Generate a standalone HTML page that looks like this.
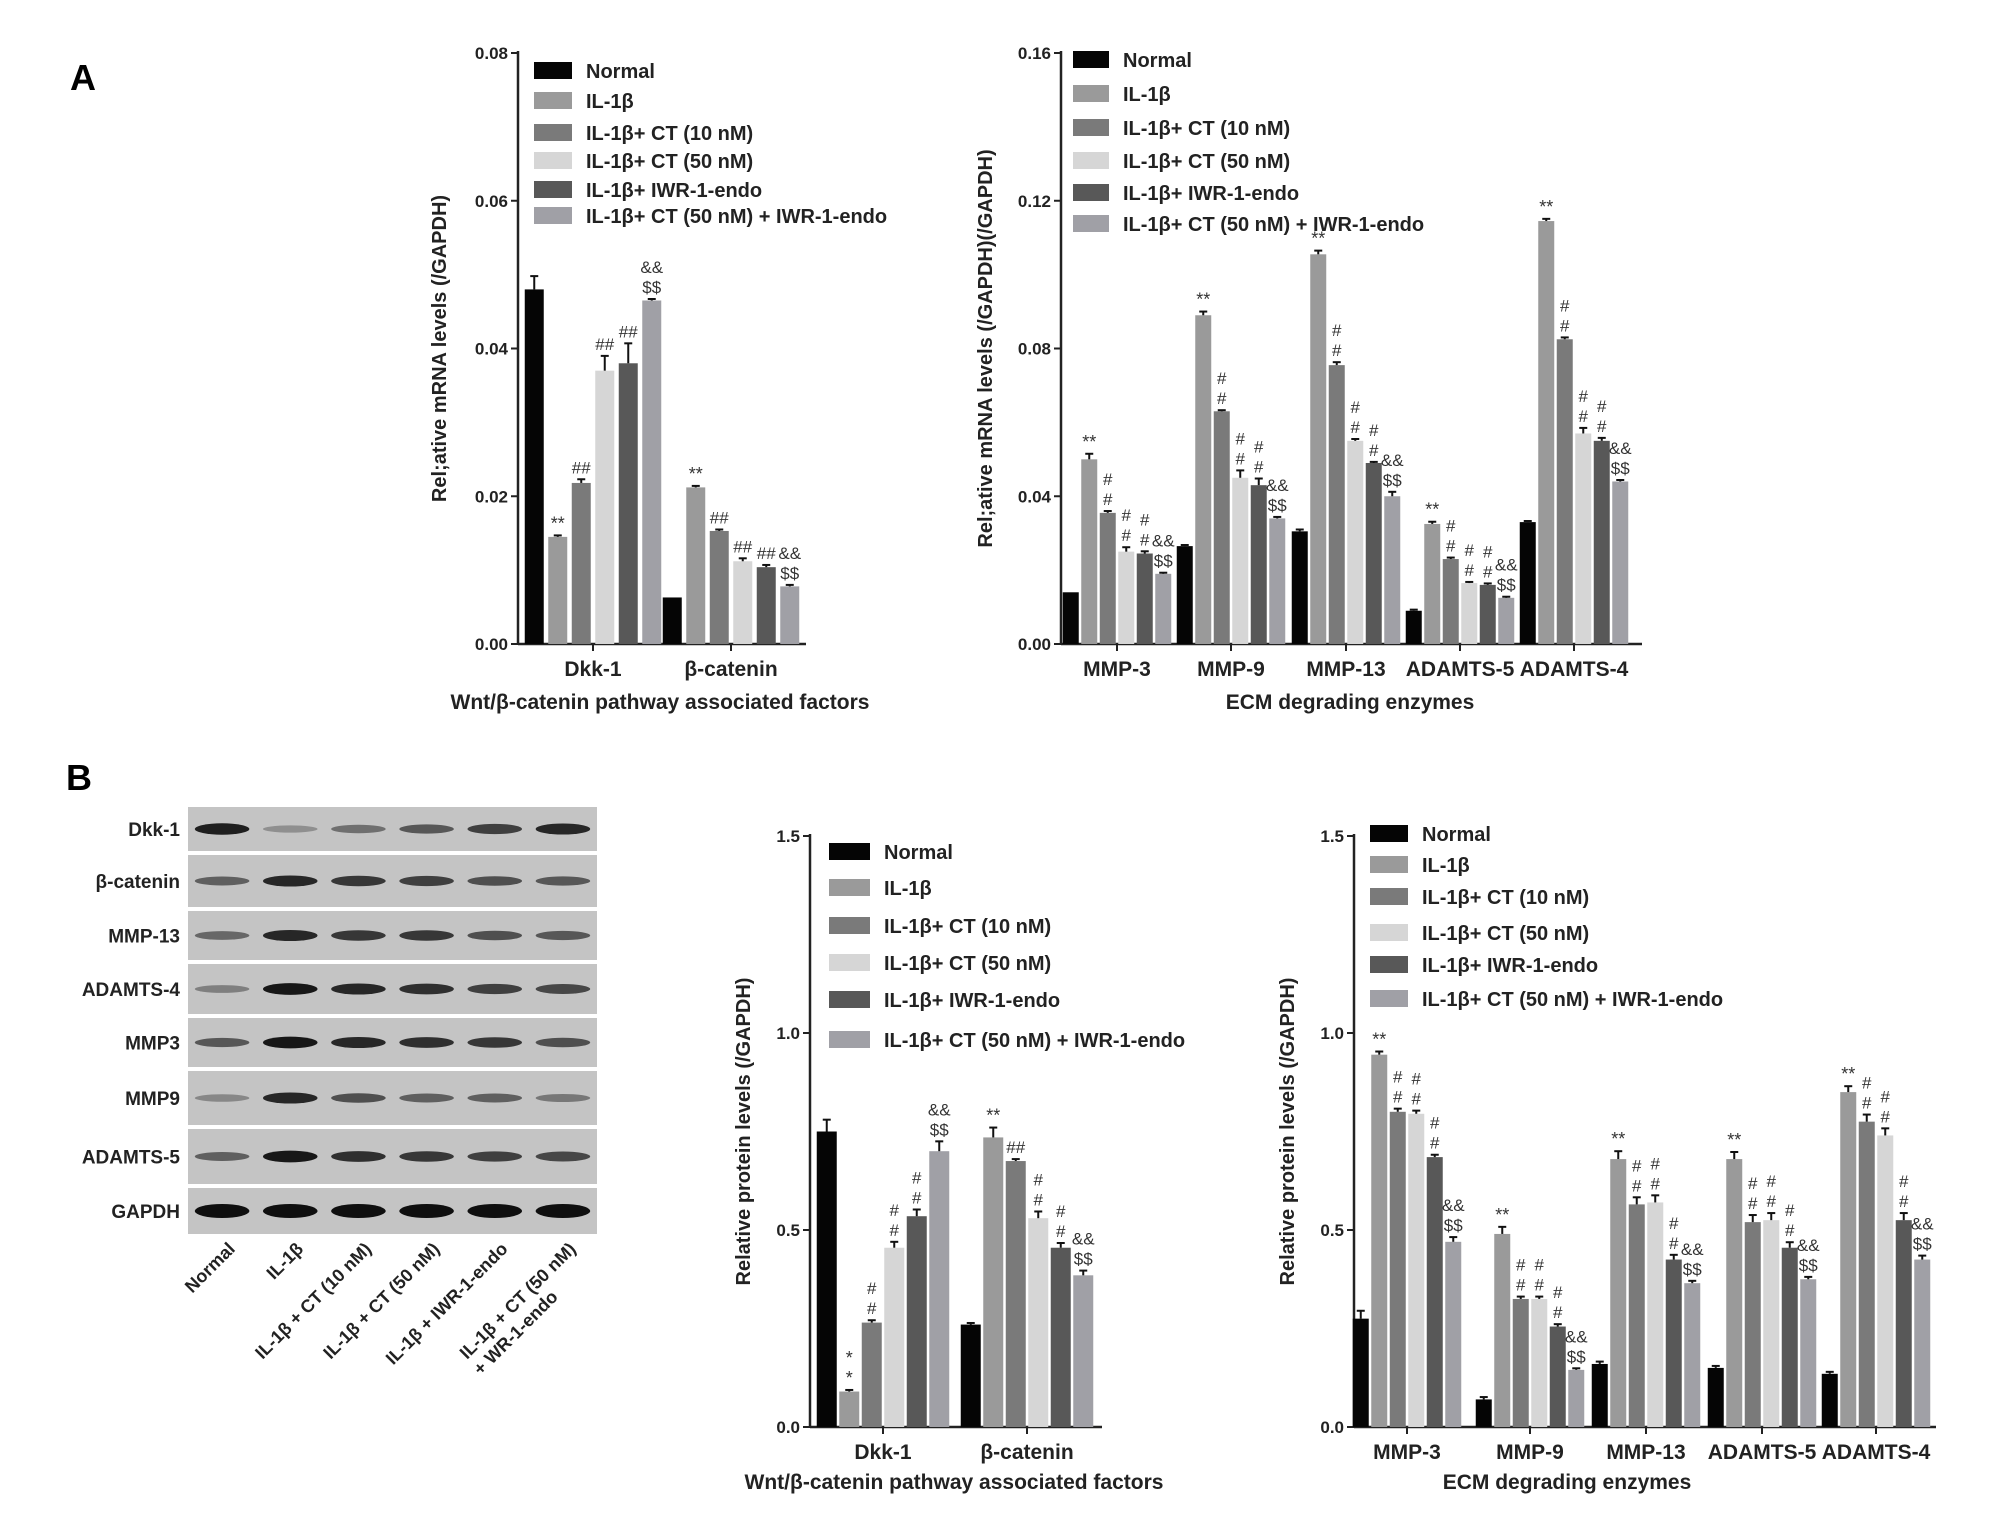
<!DOCTYPE html>
<html><head><meta charset="utf-8"><style>
body{margin:0;background:#fff;}
svg{display:block;font-family:"Liberation Sans",sans-serif;font-weight:bold;}
</style></head><body>
<svg id="fig" width="2008" height="1516" viewBox="0 0 2008 1516">
<text x="70" y="90" font-size="36">A</text>
<text x="66" y="790" font-size="36">B</text>
<g id="blot"></g>
<g id="c1"></g>
<g id="c2"></g>
<g id="c3"></g>
<g id="c4"></g>
</svg>
<script>
const seriesNames=["Normal","IL-1β","IL-1β+ CT (10 nM)","IL-1β+ CT (50 nM)","IL-1β+ IWR-1-endo","IL-1β+ CT (50 nM) + IWR-1-endo"];
const seriesColors=["#050505","#9a9a9a","#7a7a7a","#d6d6d6","#585858","#a0a0a6"];

const a1Categories=["Dkk-1","β-catenin"];
const a1Values=[[0.048,0.0145,0.0218,0.037,0.038,0.0465],[0.0063,0.0212,0.0153,0.0112,0.0104,0.0078]];
const a1Errors=[[0.0018,0.0002,0.0005,0.002,0.0027,0.0002],[0,0.0002,0.0002,0.0004,0.0003,0.0002]];
const a1Marks=[["","**","##","##","##","&&|$$"],["","**","##","##","##","&&|$$"]];
const a1Ticks=["0.00","0.02","0.04","0.06","0.08"];

const a2Categories=["MMP-3","MMP-9","MMP-13","ADAMTS-5","ADAMTS-4"];
const a2Values=[[0.014,0.050,0.0355,0.025,0.0245,0.019],[0.0265,0.089,0.063,0.045,0.043,0.034],[0.0305,0.1055,0.0755,0.055,0.049,0.040],[0.009,0.0325,0.023,0.0165,0.016,0.0125],[0.033,0.1145,0.0825,0.057,0.055,0.044]];
const a2Errors=[[0,0.0015,0.0005,0.0012,0.0006,0.0003],[0.0003,0.001,0.0003,0.002,0.0018,0.0004],[0.0005,0.001,0.0008,0.0005,0.0003,0.0012],[0.0003,0.0006,0.0004,0.0003,0.0004,0.0003],[0.0003,0.0006,0.0005,0.0015,0.0008,0.0004]];
const a2Marks=[["","**","#|#","#|#","#|#","&&|$$"],["","**","#|#","#|#","#|#","&&|$$"],["","**","#|#","#|#","#|#","&&|$$"],["","**","#|#","#|#","#|#","&&|$$"],["","**","#|#","#|#","#|#","&&|$$"]];
const a2Ticks=["0.00","0.04","0.08","0.12","0.16"];

const b1Categories=["Dkk-1","β-catenin"];
const b1Values=[[0.75,0.09,0.265,0.455,0.535,0.70],[0.26,0.735,0.675,0.53,0.455,0.385]];
const b1Errors=[[0.03,0.004,0.006,0.015,0.017,0.025],[0.004,0.025,0.005,0.017,0.012,0.012]];
const b1Marks=[["","*|*","#|#","#|#","#|#","&&|$$"],["","**","##","#|#","#|#","&&|$$"]];
const b1Ticks=["0.0","0.5","1.0","1.5"];

const b2Categories=["MMP-3","MMP-9","MMP-13","ADAMTS-5","ADAMTS-4"];
const b2Values=[[0.275,0.945,0.80,0.795,0.685,0.47],[0.07,0.49,0.325,0.325,0.255,0.145],[0.16,0.68,0.565,0.57,0.425,0.365],[0.15,0.68,0.52,0.525,0.455,0.375],[0.135,0.85,0.775,0.74,0.525,0.425]];
const b2Errors=[[0.02,0.008,0.008,0.008,0.006,0.012],[0.006,0.018,0.006,0.006,0.006,0.004],[0.006,0.02,0.018,0.018,0.012,0.006],[0.005,0.018,0.018,0.018,0.014,0.006],[0.005,0.015,0.018,0.018,0.018,0.01]];
const b2Marks=[["","**","#|#","#|#","#|#","&&|$$"],["","**","#|#","#|#","#|#","&&|$$"],["","**","#|#","#|#","#|#","&&|$$"],["","**","#|#","#|#","#|#","&&|$$"],["","**","#|#","#|#","#|#","&&|$$"]];
const b2Ticks=["0.0","0.5","1.0","1.5"];

const NS="http://www.w3.org/2000/svg";
function mk(p,tag,attrs){const e=document.createElementNS(NS,tag);for(const k in attrs)e.setAttribute(k,attrs[k]);p.appendChild(e);return e;}

function chart(g,cfg){
  const {ax,y0,y1,xEnd,max,ticks,cats,vals,errs,marks,centers,barW,step,ytitle,ytitleX,xtitle,xtitleX,legX,legY,legFont,fs}=cfg;
  const ys=v=>y0-(v/max)*(y0-y1);
  mk(g,'line',{x1:ax,y1:y1-2,x2:ax,y2:y0,stroke:'#222','stroke-width':2.5});
  mk(g,'line',{x1:ax,y1:y0,x2:xEnd,y2:y0,stroke:'#222','stroke-width':2.5});
  ticks.forEach(t=>{const y=ys(parseFloat(t));
    mk(g,'line',{x1:ax-7,y1:y,x2:ax,y2:y,stroke:'#222','stroke-width':2});
    const tx=mk(g,'text',{x:ax-10,y:y+6,'font-size':fs,'text-anchor':'end',fill:'#222'});tx.textContent=t;
    
    
  });
  cats.forEach((c,ci)=>{
    const cx=centers[ci];
    mk(g,'line',{x1:cx,y1:y0,x2:cx,y2:y0+7,stroke:'#222','stroke-width':2});
    const lt=mk(g,'text',{x:cx,y:y0+32,'font-size':fs+4,'text-anchor':'middle',fill:'#222'});lt.textContent=c;
    
    
    vals[ci].forEach((v,si)=>{
      const x=cx-3*step+si*step+(step-barW)/2, y=ys(v);
      const r=mk(g,'rect',{x:x,y:y,width:barW,height:y0-y,fill:seriesColors[si]});
      
      
      const e=errs[ci][si];
      if(e>0){const ye=ys(v+e);mk(g,'line',{x1:x+barW/2,y1:ye,x2:x+barW/2,y2:y,stroke:'#111','stroke-width':2});mk(g,'line',{x1:x+barW/2-4,y1:ye,x2:x+barW/2+4,y2:ye,stroke:'#111','stroke-width':2});}
      const m=marks[ci][si];
      if(m){const parts=m.split('|');const top=ys(v+e)-6;
        parts.forEach((p,pi)=>{const t=mk(g,'text',{x:x+barW/2,y:top-(parts.length-1-pi)*20,'font-size':p.indexOf('*')>=0?18:17,'text-anchor':'middle',fill:'#333','font-weight':'normal'});t.textContent=p;
          
          });}
    });
  });
  const yt=mk(g,'text',{x:0,y:0,'font-size':fs+3,'text-anchor':'middle',fill:'#222',transform:`translate(${ytitleX},${(y0+y1)/2}) rotate(-90)`});yt.textContent=ytitle;
  
  
  const xt=mk(g,'text',{x:xtitleX,y:cfg.xtitleY,'font-size':fs+4,'text-anchor':'middle',fill:'#222'});xt.textContent=xtitle;
  
  
  seriesNames.forEach((n,i)=>{
    const yy=legY[i];
    const sw=mk(g,'rect',{x:legX,y:yy-9,width:cfg.swW,height:17,fill:seriesColors[i]});
    
    
    const t=mk(g,'text',{x:legX+cfg.swW+14,y:yy+7,'font-size':legFont,fill:'#222'});t.textContent=n;
    
    
  });
}

chart(document.getElementById('c1'),{ax:518,y0:644,y1:53,xEnd:806,max:0.08,ticks:a1Ticks,cats:a1Categories,vals:a1Values,errs:a1Errors,marks:a1Marks,centers:[593,731],barW:19,step:23.5,ytitle:"Rel;ative mRNA levels (/GAPDH)",ytitleX:446,xtitle:"Wnt/β-catenin pathway associated factors",xtitleX:660,xtitleY:709,legX:534,legY:[71,101,133,161,190,216],legFont:20,fs:17,swW:38});
chart(document.getElementById('c2'),{ax:1061,y0:644,y1:53,xEnd:1642,max:0.16,ticks:a2Ticks,cats:a2Categories,vals:a2Values,errs:a2Errors,marks:a2Marks,centers:[1117,1231,1346,1460,1574],barW:16,step:18.5,ytitle:"Rel;ative mRNA levels (/GAPDH)(/GAPDH)",ytitleX:992,xtitle:"ECM degrading enzymes",xtitleX:1350,xtitleY:709,legX:1073,legY:[60,94,128,161,193,224],legFont:20,fs:17,swW:36});
chart(document.getElementById('c3'),{ax:810,y0:1427,y1:836,xEnd:1102,max:1.5,ticks:b1Ticks,cats:b1Categories,vals:b1Values,errs:b1Errors,marks:b1Marks,centers:[883,1027],barW:20,step:22.5,ytitle:"Relative protein levels (/GAPDH)",ytitleX:750,xtitle:"Wnt/β-catenin pathway associated factors",xtitleX:954,xtitleY:1489,legX:829,legY:[852,888,926,963,1000,1040],legFont:20,fs:17,swW:41});
chart(document.getElementById('c4'),{ax:1354,y0:1427,y1:836,xEnd:1936,max:1.5,ticks:b2Ticks,cats:b2Categories,vals:b2Values,errs:b2Errors,marks:b2Marks,centers:[1407,1530,1646,1762,1876],barW:16,step:18.5,ytitle:"Relative protein levels (/GAPDH)",ytitleX:1294,xtitle:"ECM degrading enzymes",xtitleX:1567,xtitleY:1489,legX:1370,legY:[834,865,897,933,965,999],legFont:20,fs:17,swW:38});

// Western blot
const blotRows=["Dkk-1","β-catenin","MMP-13","ADAMTS-4","MMP3","MMP9","ADAMTS-5","GAPDH"];
const blotIntensity=[[0.9,0.2,0.4,0.55,0.7,0.85],[0.5,0.85,0.75,0.7,0.6,0.55],[0.45,0.85,0.75,0.75,0.6,0.55],[0.3,0.95,0.85,0.8,0.7,0.65],[0.55,0.95,0.85,0.8,0.75,0.6],[0.25,0.85,0.6,0.5,0.5,0.35],[0.5,0.95,0.8,0.75,0.7,0.65],[1,1,1,1,1,1]];
const blotLanes=["Normal","IL-1β","IL-1β + CT (10 nM)","IL-1β + CT (50 nM)","IL-1β +  IWR-1-endo","IL-1β + CT (50 nM)"];
(function(){
  const g=document.getElementById('blot');
  const bx=188,bw=409,rowB=[805,853,909,962,1016,1069,1127,1186,1236];
  const lw=bw/6;
  blotRows.forEach((n,ri)=>{
    const y=rowB[ri]+2,h=rowB[ri+1]-rowB[ri]-4;
    const r=mk(g,'rect',{x:bx,y:y,width:bw,height:h,fill:'#c4c4c4'});
    
    
    const t=mk(g,'text',{x:180,y:y+h/2+7,'font-size':19,'text-anchor':'end',fill:'#222'});t.textContent=n;
    
    
    blotIntensity[ri].forEach((v,li)=>{
      const cx=bx+lw*(li+0.5);
      const bh=ri==7?14:6+v*6;
      const c=Math.round(175-v*160);
      const b=mk(g,'ellipse',{cx:cx,cy:y+h/2,rx:lw*0.4,ry:bh/2,fill:`rgb(${c},${c},${c})`});
      
      
    });
  });
  blotLanes.forEach((n,li)=>{
    const cx=bx+lw*(li+0.5)+14;
    const t=mk(g,'text',{x:0,y:0,'font-size':18,'text-anchor':'end',fill:'#222',transform:`translate(${cx},${1250}) rotate(-45)`});t.textContent=n;
    
    
  });
  const t2=mk(g,'text',{x:0,y:0,'font-size':18,'text-anchor':'end',fill:'#222',transform:`translate(${bx+lw*5.5-4},${1298}) rotate(-45)`});t2.textContent="+ WR-1-endo";
  
  
})();
</script>
</body></html>
